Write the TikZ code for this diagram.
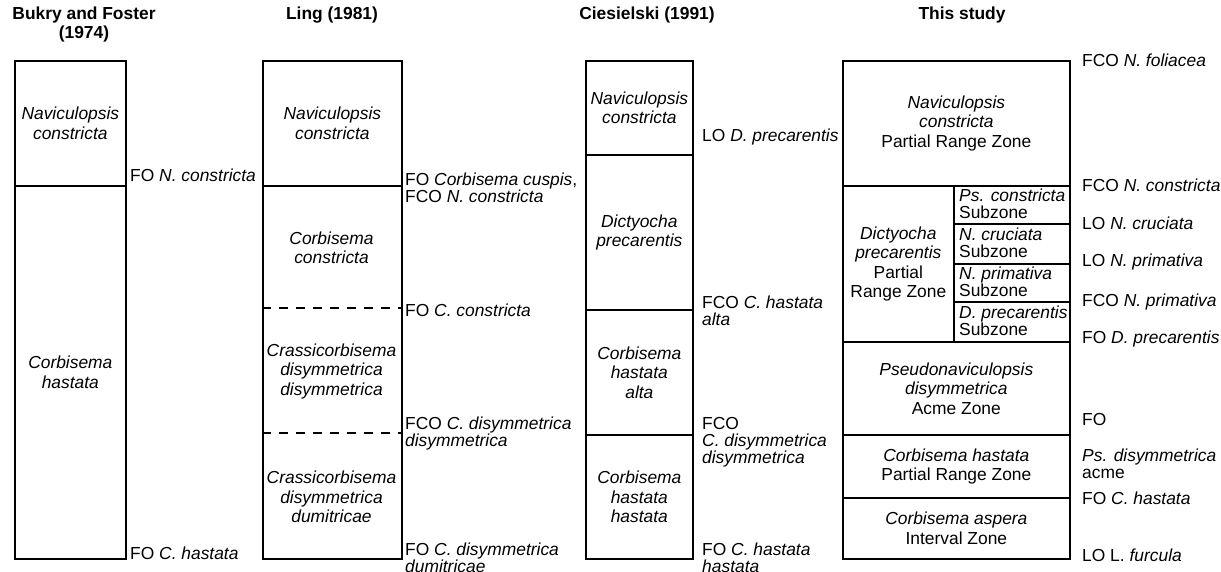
\documentclass[tikz,border=0pt]{standalone}
\usepackage{fontspec}
\setmainfont{Liberation Sans}
\newcommand{\fszone}{\fontsize{17.4}{19.5}\selectfont}
\newcommand{\fslab}{\fontsize{17.4}{17}\selectfont}
\begin{document}
\begin{tikzpicture}[x=1pt,y=-1pt,
  zone/.style={draw, line width=1.7pt, anchor=north west, inner sep=0pt, align=center, font=\fszone},
  ztext/.style={inner sep=0pt, align=center, font=\fszone},
  subtext/.style={inner sep=0pt, align=left, anchor=west, font=\fslab},
  lab/.style={inner sep=0pt, align=left, anchor=west, font=\fslab},
  ttl/.style={inner sep=0pt, align=center, font=\fontsize{17.4}{19}\selectfont\bfseries},
  dashline/.style={line width=1.3pt, dash pattern=on 9pt off 8pt}]
\useasboundingbox (0,0) rectangle (1221,572);

% titles
\node[ttl] (t1) at (84,25) {Bukry and Foster\\(1974)};
\node[ttl] (t2) at (332,15) {Ling (1981)};
\node[ttl] (t3) at (647,15) {Ciesielski (1991)};
\node[ttl] (t4) at (962,15) {This study};

% column 1
\node[zone, minimum width=111, minimum height=125] (b1) at (14,60) {\textit{Naviculopsis}\\\textit{constricta}};
\node[zone, minimum width=111, minimum height=373] (b2) at (14,185) {\textit{Corbisema}\\\textit{hastata}};
\node[lab] (lb1) at (130,175) {FO \textit{N. constricta}};
\node[lab] (lb2) at (130,553) {FO \textit{C. hastata}};

% column 2
\node[zone, minimum width=139, minimum height=125] (l1) at (262,60) {\textit{Naviculopsis}\\\textit{constricta}};
\node[zone, minimum width=139, minimum height=373] (l2) at (262,185) {};
\node[ztext] (l2a) at (331.5,248) {\textit{Corbisema}\\\textit{constricta}};
\node[ztext] (l2b) at (331.5,371) {\textit{Crassicorbisema}\\\textit{disymmetrica}\\\textit{disymmetrica}};
\node[ztext] (l2c) at (331.5,497) {\textit{Crassicorbisema}\\\textit{disymmetrica}\\\textit{dumitricae}};
\draw[dashline] ([yshift=-123pt]l2.north west) -- ([yshift=-123pt]l2.north east);
\draw[dashline] ([yshift=-248pt]l2.north west) -- ([yshift=-248pt]l2.north east);
\node[lab] (ll1) at (405,188) {FO \textit{Corbisema cuspis},\\FCO \textit{N. constricta}};
\node[lab] (ll2) at (405,310) {FO \textit{C. constricta}};
\node[lab] (ll3) at (405,433) {FCO \textit{C. disymmetrica}\\\textit{disymmetrica}};
\node[lab] (ll4) at (405,557.5) {FO \textit{C. disymmetrica}\\\textit{dumitricae}};

% column 3
\node[zone, minimum width=107, minimum height=94] (c1) at (585,60) {\textit{Naviculopsis}\\\textit{constricta}};
\node[zone, minimum width=107, minimum height=155] (c2) at (585,154) {\textit{Dictyocha}\\\textit{precarentis}};
\node[zone, minimum width=107, minimum height=125] (c3) at (585,309) {\textit{Corbisema}\\\textit{hastata}\\\textit{alta}};
\node[zone, minimum width=107, minimum height=124] (c4) at (585,434) {\textit{Corbisema}\\\textit{hastata}\\\textit{hastata}};
\node[lab] (lc1) at (702,137) {LO \textit{D. precarentis}};
\node[lab] (lc2) at (702,311) {FCO \textit{C. hastata}\\\textit{alta}};
\node[lab] (lc3) at (702,442) {FCO\\\textit{C. disymmetrica}\\\textit{disymmetrica}};
\node[lab] (lc4) at (702,557.5) {FO \textit{C. hastata}\\\textit{hastata}};

% column 4
\node[zone, minimum width=227, minimum height=125] (s1) at (842,60) {\textit{Naviculopsis}\\\textit{constricta}\\Partial Range Zone};
\node[zone, minimum width=111, minimum height=156] (s2) at (842,185) {\textit{Dictyocha}\\\textit{precarentis}\\Partial\\Range Zone};
\node[zone, minimum width=116, minimum height=38] (s2a) at (953,185) {};
\node[zone, minimum width=116, minimum height=40] (s2b) at (953,223) {};
\node[zone, minimum width=116, minimum height=38] (s2c) at (953,263) {};
\node[zone, minimum width=116, minimum height=40] (s2d) at (953,301) {};
\node[subtext] (sa) at ([xshift=6pt,yshift=1pt]s2a.west) {\textit{Ps. constricta}\\Subzone};
\node[subtext] (sb) at ([xshift=6pt,yshift=1.5pt]s2b.west) {\textit{N. cruciata}\\Subzone};
\node[subtext] (sc) at ([xshift=6pt,yshift=1pt]s2c.west) {\textit{N. primativa}\\Subzone};
\node[subtext] (sd) at ([xshift=6pt,yshift=1.5pt]s2d.west) {\textit{D. precarentis}\\Subzone};
\node[zone, minimum width=227, minimum height=93] (s3) at (842,341) {\textit{Pseudonaviculopsis}\\\textit{disymmetrica}\\Acme Zone};
\node[zone, minimum width=227, minimum height=63] (s4) at (842,434) {\textit{Corbisema hastata}\\Partial Range Zone};
\node[zone, minimum width=227, minimum height=61] (s5) at (842,497) {\textit{Corbisema aspera}\\Interval Zone};
\node[lab] (ls1) at (1082,60) {FCO \textit{N. foliacea}};
\node[lab] (ls2) at (1082,185) {FCO \textit{N. constricta}};
\node[lab] (ls3) at (1082,223) {LO \textit{N. cruciata}};
\node[lab] (ls4) at (1082,262) {LO \textit{N. primativa}};
\node[lab] (ls5) at (1082,302) {FCO \textit{N. primativa}};
\node[lab] (ls6) at (1082,339) {FO \textit{D. precarentis}};
\node[lab] (ls7) at (1082,420) {FO};
\node[lab] (ls8) at (1082,464) {\textit{Ps. disymmetrica}\\acme};
\node[lab] (ls9) at (1082,498) {FO \textit{C. hastata}};
\node[lab] (ls10) at (1082,555) {LO L. \textit{furcula}};
\end{tikzpicture}
\end{document}
